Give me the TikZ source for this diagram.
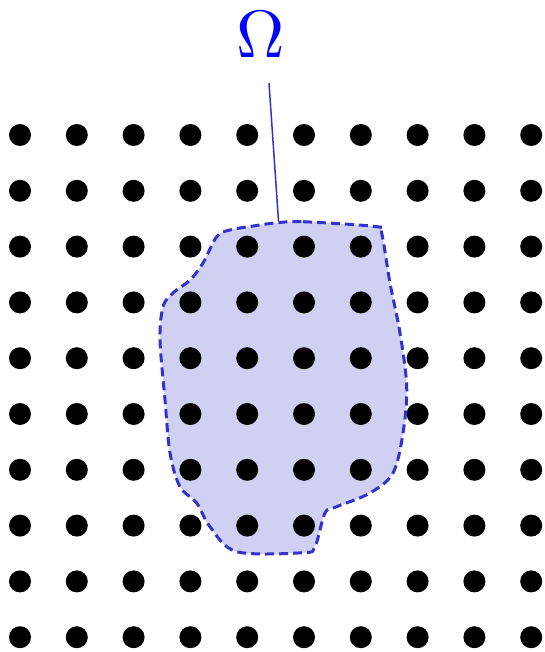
\documentclass[tikz,border=0pt]{standalone}
\usepackage{graphicx}
\definecolor{blobfill}{RGB}{208,208,242}
\definecolor{blobline}{RGB}{51,51,204}
\tikzset{
  dot/.style={fill=black,draw=none},
  blob/.style={fill=blobfill,draw=blobline,line width=3pt,dash pattern=on 9pt off 5pt},
  leader/.style={draw=blobline,line width=1.5pt},
  lbl/.style={text=blue,inner sep=0pt}
}
\begin{document}
\begin{tikzpicture}[x=1pt,y=1pt]
\useasboundingbox (0,0) rectangle (545,-652);
% region fill
\fill[blobfill] plot[smooth cycle,tension=0.55] coordinates {
 (277.7,-222.7) (303,-221.7) (376.7,-226.7) (381.7,-233) (390,-283) (400,-333)
 (406.7,-386.7) (403,-433) (393,-473) (370,-493) (336.7,-506.7) (325,-513)
 (315,-546.7) (303,-552.7) (236.7,-551.7) (210,-526.7) (196.7,-503) (180,-486.7)
 (170,-453) (165,-400) (160,-340) (163,-306.7) (173,-293) (190,-280) (203,-263)
 (216.7,-236.7) (230,-230) (260,-225)};
% dots
\foreach \i in {0,...,9}{
  \foreach \j in {0,...,9}{
    \fill[dot] ({20+56.8*\i},{-135-55.8*\j}) circle (11);
  }
}
% outline
\draw[blob,fill=none] plot[smooth cycle,tension=0.55] coordinates {
 (277.7,-222.7) (303,-221.7) (376.7,-226.7) (381.7,-233) (390,-283) (400,-333)
 (406.7,-386.7) (403,-433) (393,-473) (370,-493) (336.7,-506.7) (325,-513)
 (315,-546.7) (303,-552.7) (236.7,-551.7) (210,-526.7) (196.7,-503) (180,-486.7)
 (170,-453) (165,-400) (160,-340) (163,-306.7) (173,-293) (190,-280) (203,-263)
 (216.7,-236.7) (230,-230) (260,-225)};
% label
\node[lbl] (omega) at (261,-35) {\scalebox{6.7}{$\Omega$}};
\coordinate (lstart) at (269,-83);
\coordinate (ltip) at (278.5,-221);
\draw[leader] (lstart) -- (ltip);
\end{tikzpicture}
\end{document}
